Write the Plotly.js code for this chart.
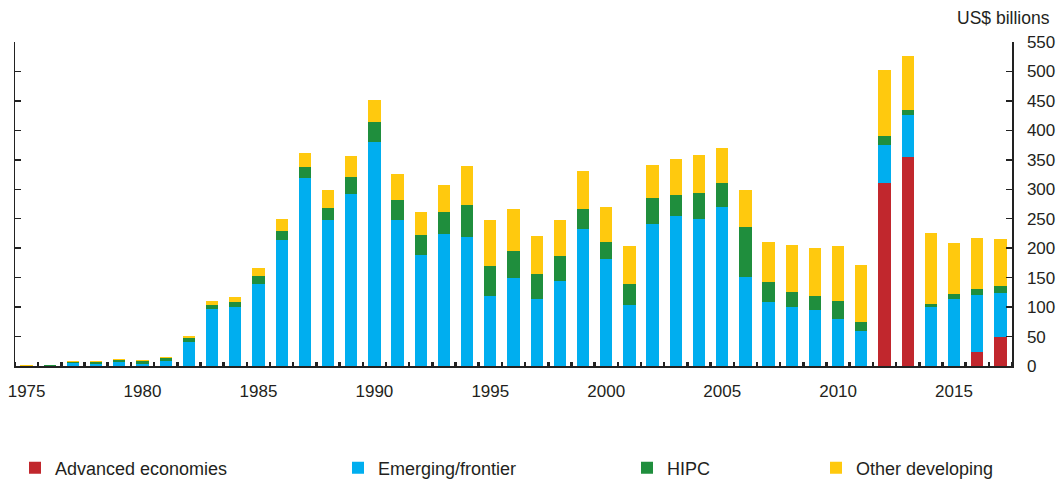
<!DOCTYPE html>
<html>
<head>
<meta charset="utf-8">
<script src="https://cdn.plot.ly/plotly-3.0.1.min.js"></script>
<style>
  html, body { margin: 0; padding: 0; background: #ffffff; }
  #chart { width: 1062px; height: 482px; }
</style>
</head>
<body>
<div id="chart"></div>
<script>
// Years (categories)
const years = [1975,1976,1977,1978,1979,1980,1981,1982,1983,1984,1985,1986,1987,1988,1989,
               1990,1991,1992,1993,1994,1995,1996,1997,1998,1999,2000,2001,2002,2003,2004,
               2005,2006,2007,2008,2009,2010,2011,2012,2013,2014,2015,2016,2017];

// US$ billions, by borrower group (stacked)
const advanced = [0,0,0,0,0,0,0,0,0,0,0,0,0,0,0,
                  0,0,0,0,0,0,0,0,0,0,0,0,0,0,0,
                  0,0,0,0,0,0,0,311,354,0,0,24,50];
const emerging = [0,0,5,4,6,3,9,40,97,101,140,214,319,247,292,
                  381,248,189,224,219,118,149,113,145,233,181,103,241,254,249,
                  270,151,109,101,95,80,60,64,72,100,113,97,74];
const hipc     = [0.5,1,1,3,4,6,4,7,6,7,12,15,19,21,28,
                  33,33,34,37,54,51,47,44,42,34,30,37,45,37,44,
                  41,85,33,24,24,30,14,16,9,6,9,9,12];
const other    = [1,1,2,2,2,2,3,4,7,9,14,20,24,31,37,
                  38,45,39,46,67,78,70,64,60,64,59,64,55,61,66,
                  59,63,68,81,82,94,98,111,91,120,87,88,80];

const seriesNames = ["Advanced economies", "Emerging/frontier", "HIPC", "Other developing"];
const seriesColors = ["#C1272D", "#00AEEF", "#1F8E3D", "#FFC90E"];

const xTickVals = [1975,1980,1985,1990,1995,2000,2005,2010,2015];
const xTickText = ["1975","1980","1985","1990","1995","2000","2005","2010","2015"];
const yTickVals = [0,50,100,150,200,250,300,350,400,450,500,550];
const unitLabel = "US$ billions";

const FONT = "Liberation Sans, Arial, Helvetica, sans-serif";
const TXT = "#231f20";

const seriesData = [advanced, emerging, hipc, other];
const legendIds = ["legend", "legend2", "legend3", "legend4"];

const traces = seriesData.map((vals, i) => ({
  type: "bar",
  x: years,
  y: vals,
  name: seriesNames[i],
  marker: { color: seriesColors[i], line: { width: 0 } },
  width: 0.53,
  legend: legendIds[i],
  showlegend: true,
  hoverinfo: "x+y+name"
}));

// legend positions in container fractions (left edge of each legend box)
function legendAt(xc) {
  return {
    x: xc, xanchor: "left", xref: "container",
    y: 0.029, yanchor: "middle", yref: "container",
    orientation: "h",
    bgcolor: "rgba(0,0,0,0)",
    borderwidth: 0,
    itemwidth: 30,
    font: { family: FONT, size: 18, color: TXT }
  };
}

const layout = {
  width: 1062,
  height: 482,
  margin: { l: 15, r: 50, t: 42, b: 116, pad: 0 },
  paper_bgcolor: "#ffffff",
  plot_bgcolor: "#ffffff",
  barmode: "stack",
  bargap: 0,
  showlegend: true,
  font: { family: FONT, size: 17, color: TXT },
  xaxis: {
    range: [1974.5, 2017.5],
    tickmode: "array",
    tickvals: xTickVals,
    ticktext: xTickText,
    ticks: "",
    ticklabelstandoff: 9,
    showline: true,
    linecolor: "#222222",
    linewidth: 1.5,
    showgrid: false,
    zeroline: false,
    tickfont: { family: FONT, size: 17, color: TXT },
    minor: { tick0: 1974.5, dtick: 1, ticks: "inside", ticklen: 4, tickwidth: 2.5, tickcolor: "#222222", showgrid: false }
  },
  yaxis: {
    side: "right",
    range: [0, 550],
    tickmode: "array",
    tickvals: yTickVals,
    ticks: "inside",
    ticklen: 6,
    tickwidth: 1.5,
    tickcolor: "#222222",
    showline: true,
    linecolor: "#222222",
    linewidth: 1.5,
    mirror: "allticks",
    showgrid: false,
    zeroline: false,
    ticklabelstandoff: 10,
    tickfont: { family: FONT, size: 17, color: TXT }
  },
  legend: legendAt(15 / 1062),
  legend2: legendAt(338 / 1062),
  legend3: legendAt(627 / 1062),
  legend4: legendAt(816 / 1062),
  annotations: [{
    text: unitLabel,
    xref: "paper", yref: "paper",
    x: 1.040, y: 1.074,
    xanchor: "right", yanchor: "middle",
    showarrow: false,
    font: { family: FONT, size: 17.5, color: TXT }
  }]
};

Plotly.newPlot("chart", traces, layout, { staticPlot: true, displayModeBar: false });
</script>
</body>
</html>
